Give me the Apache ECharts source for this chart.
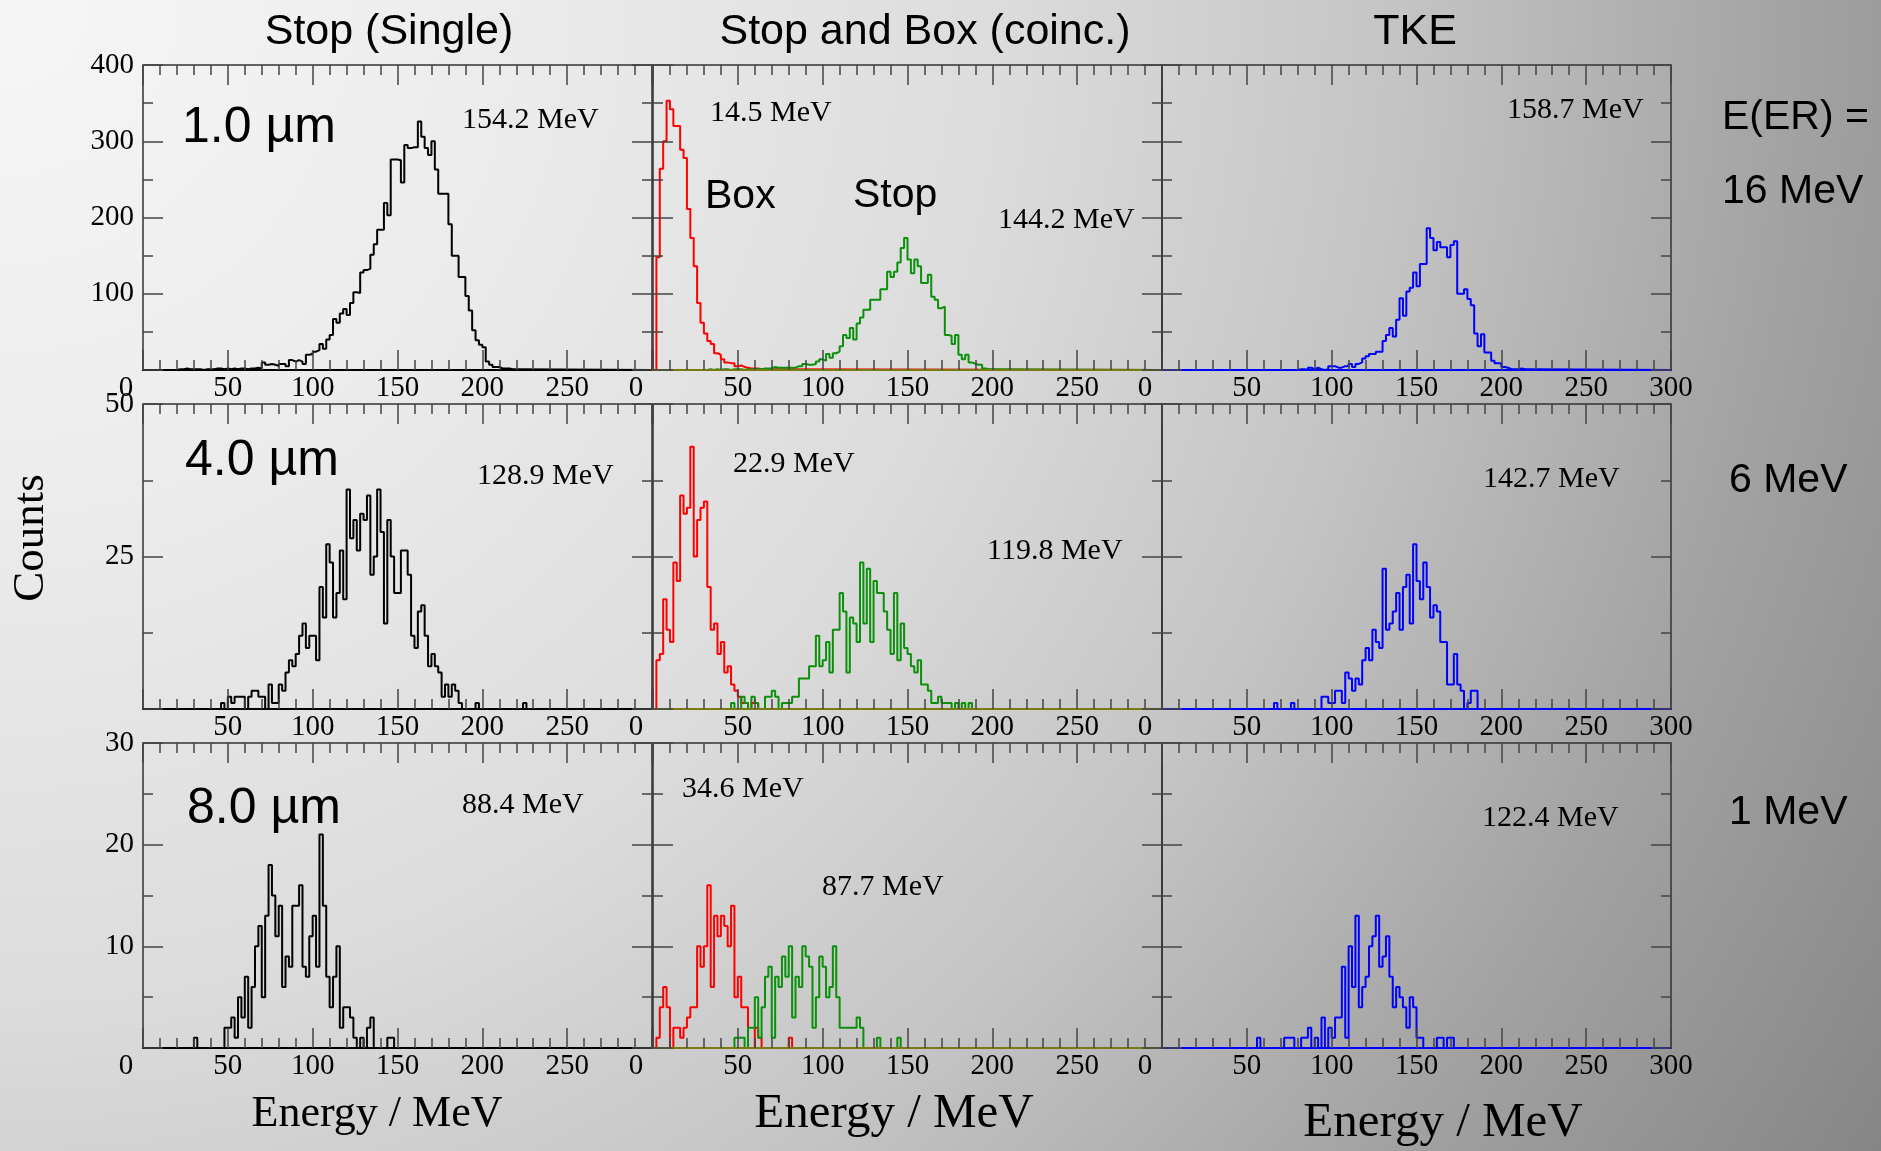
<!DOCTYPE html>
<html>
<head>
<meta charset="utf-8">
<title>Energy spectra</title>
<script src="https://cdn.jsdelivr.net/npm/echarts@6/dist/echarts.min.js"></script>
<style>
  html, body { margin: 0; padding: 0; }
  body {
    width: 1881px; height: 1151px; overflow: hidden;
    background: radial-gradient(circle at 0 0, #f6f6f6 0px, #ececec 500px, #dcdcdc 1000px, #c4c4c4 1400px, #a2a2a2 1800px, #868686 2200px);
  }
  #chart { width: 1881px; height: 1151px; }
</style>
</head>
<body>
<div id="chart"></div>
<script>
// ---- binning ----
const BIN_WIDTH = 2;     // MeV per histogram bin
const E_MAX = 300;       // upper end of the energy axis

// ---- text ----
const columnTitles = ['Stop (Single)', 'Stop and Box (coinc.)', 'TKE'];
const thicknessLabels = ['1.0 µm', '4.0 µm', '8.0 µm'];
const eerHeader = 'E(ER) =';
const eerLabels = ['16 MeV', '6 MeV', '1 MeV'];
const meanSingle = ['154.2 MeV', '128.9 MeV', '88.4 MeV'];
const meanBox = ['14.5 MeV', '22.9 MeV', '34.6 MeV'];
const meanStop = ['144.2 MeV', '119.8 MeV', '87.7 MeV'];
const meanTke = ['158.7 MeV', '142.7 MeV', '122.4 MeV'];
const xTitle = 'Energy / MeV';
const yTitle = 'Counts';

// ---- count axes per row ----
const countMax = [400, 50, 30];
const countStep = [100, 25, 10];
const countMinorStep = [50, 12.5, 5];
const energyStep = 50;
const energyMinorStep = 10;

// ---- 1.0 µm ----
const single1Start = 20;
const single1 = [1,1,2,1,1,1,1,0,1,1, 1,2,2,1,2,1,2,1,2,2, 1,2,2,3,2,10,7,8,7,5,
  8,8,5,13,11,13,11,8,20,21, 24,26,34,28,40,46,67,62,74,80, 72,88,102,101,128,131,133,151,165,184,
  184,219,203,276,276,275,246,295,291,292, 292,326,306,291,282,300,263,231,231,231,
  191,150,150,122,122,97,78,52,39,33, 30,11,7,4,4,2,2,2,1,1];
const box1Start = 0;
const box1 = [0,148,264,300,353,342,320,320,289,278, 211,173,136,88,62,48,38,34,22,20,
  14,10,9,9,5,6,4,3,2,2, 2,1,1,1];
const stop1Start = 32;
const stop1 = [1,0,1,0,1,1,0,1,1,1, 0,1,1,1,1,1,2,2,2,4, 3,3,3,3,3,3,5,5,8,7,
  7,8,11,14,12,21,16,22,24,31, 46,42,55,40,61,69,79,79,92,92, 92,106,106,129,122,129,141,160,173,145,
  127,145,136,114,114,125,96,92,81,83, 46,45,34,46,20,14,20,10,8,7, 7,2,1,1,1];
const tke1Start = 80;
const tke1 = [1,1,0,3,1,3,1,0,1,5, 5,3,3,5,5,8,4,8,10,15, 18,21,21,24,24,38,46,55,44,66,
  94,71,103,108,128,110,139,139,186,173, 157,168,161,161,148,164,169,100,100,106,
  93,85,48,31,47,23,23,12,9,9, 4,3,1,1,1,2,1,1,1,1];

// ---- 4.0 µm ----
const single2Start = 46;
const single2 = [1,0,2,1,2,2,2,0,2,3, 3,2,2,0,4,1,1,4,3,6, 8,7,9,12,14,10,12,12,8,20,
  15,27,24,15,19,26,18,36,28,31, 26,32,31,35,22,25,36,29,14,31, 25,19,19,26,26,22,12,10,16,17,
  12,7,9,7,6,2,4,2,4,3, 1,0,0,0,0,1,0,0,0,0, 0,0,0,0,0,0,0,0,0,1];
const box2Start = 0;
const box2 = [0,8,9,18,13,11,24,21,35,32, 33,43,25,31,33,34,20,13,14,9, 11,6,7,4,3,2,1,1,0,1, 1];
const stop2Start = 46;
const stop2 = [1,0,0,2,1,0,2,1,0,0, 2,2,3,2,0,1,1,1,2,2, 5,5,5,7,7,12,7,8,11,6,
  13,13,19,16,6,15,14,11,24,14, 23,11,21,19,19,16,13,9,19,8, 14,10,9,7,6,8,4,4,3,1,
  1,2,1,1,1,0,1,0,1,0, 1];
const tke2Start = 66;
const tke2 = [1,0,0,0,0,1,0,0,0,0, 0,0,0,0,2,2,1,1,3,3, 1,6,5,3,5,4,8,10,8,13,
  11,10,23,13,14,16,19,13,20,22, 14,27,21,18,24,20,15,17,16,11, 11,4,4,9,4,3,0,1,3,3];

// ---- 8.0 µm ----
const single3Start = 30;
const single3 = [1,0,0,0,0,0,0,0,0,2, 2,3,1,5,3,7,2,6,10,12, 5,13,18,15,11,14,6,9,8,14,
  14,16,8,7,11,13,8,21,14,7, 4,7,10,2,4,4,3,1,0,1, 0,2,3,0,0,0,0,1,1];
const box3Start = 0;
const box3 = [0,1,4,6,4,0,2,2,1,2, 3,4,4,10,8,10,16,6,13,11, 13,12,10,14,5,7,4,4,0,0,
  2,1,0,0,0,0,0,0,0,0, 1];
const stop3Start = 48;
const stop3 = [1,1,1,0,2,2,5,1,4,7, 8,1,7,6,9,7,10,3,7,6, 10,9,8,2,5,9,8,5,6,10,
  5,2,2,2,2,2,3,2,0,0, 0,0,1,0,0,0,0,0,1];
const tke3Start = 56;
const tke3 = [1,0,0,0,0,0,0,0,1,1, 1,0,0,1,1,2,0,1,0,3, 0,2,1,3,3,8,1,10,6,13,
  4,6,7,10,11,13,8,9,11,7, 4,6,5,4,2,5,4,1,1,0, 0,0,0,1,1,0,1,1];

// ---- styling ----
const SERIF = "'Liberation Serif', 'DejaVu Serif', serif";
const SANS = "'Liberation Sans', Arial, 'DejaVu Sans', sans-serif";
const COLOR_BLACK = '#000000';
const COLOR_RED = '#ff0000';
const COLOR_GREEN = '#0a900a';
const COLOR_BLUE = '#0000ff';
const baselineColor = ['#000000', '#7a7a12', '#0000ff'];
const frameColor = '#333333';
const tickColor = '#444444';

// panel layout (pixels)
const colLeft = [143, 653, 1162];
const rowTop = [65, 404, 743];
const PANEL_W = 509;
const PANEL_H = 305;
const MAJOR_TICK = 20;
const MINOR_TICK = 10;

// histogram -> step outline points, running along the baseline over the full axis
function histPoints(start, counts) {
  const pts = [[0, 0], [start, 0]];
  counts.forEach(function (n, i) { pts.push([start + i * BIN_WIDTH, n]); });
  pts.push([start + counts.length * BIN_WIDTH, 0]);
  pts.push([E_MAX, 0]);
  return pts;
}

const panels = [
  [ [[single1Start, single1, COLOR_BLACK]], [[box1Start, box1, COLOR_RED], [stop1Start, stop1, COLOR_GREEN]], [[tke1Start, tke1, COLOR_BLUE]] ],
  [ [[single2Start, single2, COLOR_BLACK]], [[box2Start, box2, COLOR_RED], [stop2Start, stop2, COLOR_GREEN]], [[tke2Start, tke2, COLOR_BLUE]] ],
  [ [[single3Start, single3, COLOR_BLACK]], [[box3Start, box3, COLOR_RED], [stop3Start, stop3, COLOR_GREEN]], [[tke3Start, tke3, COLOR_BLUE]] ]
];

const grids = [], xAxes = [], yAxes = [], series = [];
const tickStyle = { color: tickColor, width: 1.5 };

// a tick-only axis (no line, no labels), ticks pointing into the panel
function tickAxis(gi, position, max, interval, length) {
  return {
    gridIndex: gi, type: 'value', position: position, min: 0, max: max, interval: interval, z: 5,
    axisLine: { show: false, onZero: false },
    axisTick: { show: true, inside: true, length: length, lineStyle: tickStyle },
    minorTick: { show: false },
    splitLine: { show: false },
    axisLabel: { show: false }
  };
}

for (let r = 0; r < 3; r++) {
  for (let c = 0; c < 3; c++) {
    const gi = r * 3 + c;
    grids.push({
      left: colLeft[c], top: rowTop[r], width: PANEL_W, height: PANEL_H,
      show: true, borderColor: frameColor, borderWidth: 1.5, backgroundColor: 'transparent'
    });
    const hideZero = (r === 1 && c === 0);
    const showMax = (c === 2);

    // bottom energy axis with labels (index gi*4), then minor, top major, top minor
    const bottom = tickAxis(gi, 'bottom', E_MAX, energyStep, MAJOR_TICK);
    bottom.axisLine = { show: true, onZero: false, lineStyle: { color: baselineColor[c], width: 2 } };
    bottom.axisLabel = {
      show: true, margin: 4, color: '#000', fontFamily: SERIF, fontSize: 29,
      formatter: function (v) {
        if (v === 0) return hideZero ? '' : '{z|0}';
        if (v === E_MAX && !showMax) return '';
        return String(v);
      },
      rich: { z: { fontFamily: SERIF, fontSize: 29, color: '#000', padding: [0, 34, 0, 0] } }
    };
    xAxes.push(bottom);
    xAxes.push(tickAxis(gi, 'bottom', E_MAX, energyMinorStep, MINOR_TICK));
    xAxes.push(tickAxis(gi, 'top', E_MAX, energyStep, MAJOR_TICK));
    xAxes.push(tickAxis(gi, 'top', E_MAX, energyMinorStep, MINOR_TICK));

    // left count axis with labels (index gi*4), then minor, right major, right minor
    const left = tickAxis(gi, 'left', countMax[r], countStep[r], MAJOR_TICK);
    left.axisLabel = {
      show: c === 0, margin: 9, color: '#000', fontFamily: SERIF, fontSize: 29,
      formatter: function (v) { return v === 0 ? '' : String(v); }
    };
    yAxes.push(left);
    yAxes.push(tickAxis(gi, 'left', countMax[r], countMinorStep[r], MINOR_TICK));
    yAxes.push(tickAxis(gi, 'right', countMax[r], countStep[r], MAJOR_TICK));
    yAxes.push(tickAxis(gi, 'right', countMax[r], countMinorStep[r], MINOR_TICK));

    panels[r][c].forEach(function (h) {
      series.push({
        type: 'line', xAxisIndex: gi * 4, yAxisIndex: gi * 4,
        data: histPoints(h[0], h[1]), step: 'end', symbol: 'none', silent: true,
        lineStyle: { color: h[2], width: 2 }, itemStyle: { color: h[2] },
        animation: false, z: 2
      });
    });
  }
}

// ---- annotations ----
function txt(text, x, y, size, family, align, extra) {
  const el = {
    type: 'text', x: x, y: y, silent: true, z: 10,
    style: {
      text: text, fill: '#000', fontSize: size, fontFamily: family,
      align: align, textAlign: align, verticalAlign: 'middle', textVerticalAlign: 'middle'
    }
  };
  return Object.assign(el, extra || {});
}

const graphics = [];
const titleX = [389, 925, 1415];
columnTitles.forEach(function (t, i) { graphics.push(txt(t, titleX[i], 32, 43, SANS, 'center')); });

const thickX = [182, 185, 187], thickY = [128, 461, 809];
thicknessLabels.forEach(function (t, i) { graphics.push(txt(t, thickX[i], thickY[i], 50, SANS, 'left')); });

const singleXY = [[462, 120], [477, 476], [462, 805]];
const boxXY = [[710, 113], [733, 464], [682, 789]];
const stopXY = [[998, 220], [987, 551], [822, 887]];
const tkeXY = [[1507, 110], [1483, 479], [1482, 818]];
[[meanSingle, singleXY], [meanBox, boxXY], [meanStop, stopXY], [meanTke, tkeXY]].forEach(function (pair) {
  pair[0].forEach(function (t, i) { graphics.push(txt(t, pair[1][i][0], pair[1][i][1], 30, SERIF, 'left')); });
});

graphics.push(txt('Box', 705, 197, 41, SANS, 'left'));
graphics.push(txt('Stop', 853, 196, 41, SANS, 'left'));

graphics.push(txt(eerHeader, 1722, 118, 41, SANS, 'left'));
const eerX = [1722, 1729, 1729], eerY = [192, 481, 813];
eerLabels.forEach(function (t, i) { graphics.push(txt(t, eerX[i], eerY[i], 41, SANS, 'left')); });

graphics.push(txt(yTitle, 31, 538, 45, SERIF, 'center', { rotation: Math.PI / 2 }));
graphics.push(txt(xTitle, 377, 1114, 44, SERIF, 'center'));
graphics.push(txt(xTitle, 894, 1114, 49, SERIF, 'center'));
graphics.push(txt(xTitle, 1443, 1123, 49, SERIF, 'center'));

const chart = echarts.init(document.getElementById('chart'), null, { renderer: 'canvas' });
chart.setOption({
  backgroundColor: 'transparent',
  animation: false,
  grid: grids,
  xAxis: xAxes,
  yAxis: yAxes,
  series: series,
  graphic: { elements: graphics }
});
</script>
</body>
</html>
